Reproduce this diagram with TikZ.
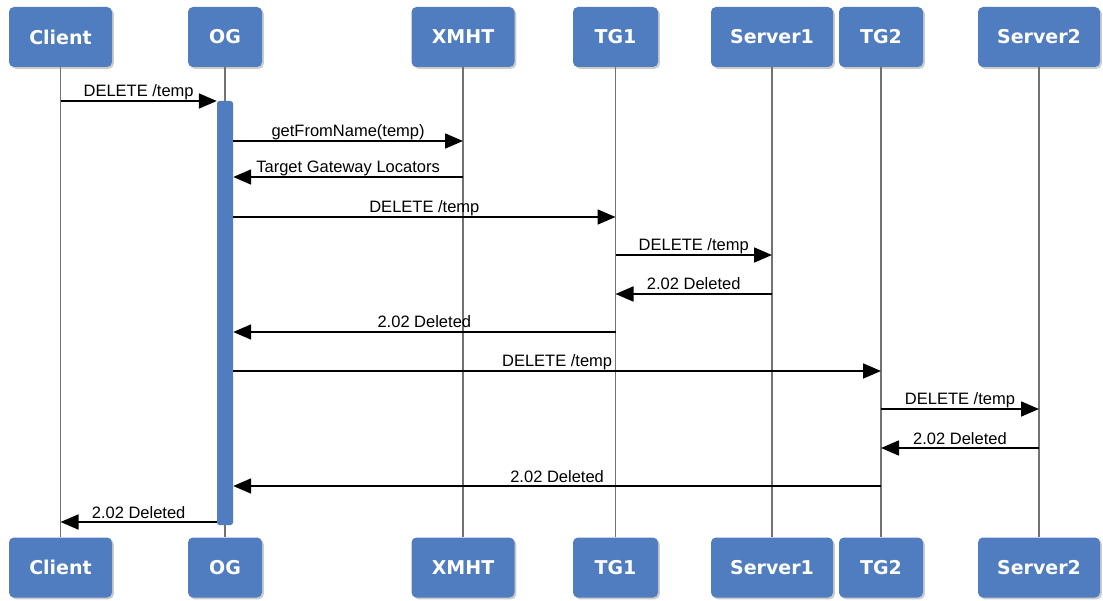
\documentclass[tikz,border=0pt]{standalone}
\usepackage{fontspec}
\setmainfont{Liberation Sans}
\newfontfamily\boxfont{DejaVu Sans}
\usetikzlibrary{arrows.meta,shadows}
\definecolor{actorblue}{RGB}{79,125,192}
\definecolor{lifegray}{RGB}{115,115,115}
\begin{document}
\begin{tikzpicture}[x=1pt,y=-1pt,
  actor/.style={fill=actorblue, rounded corners=5pt, minimum height=60pt,
    inner sep=0pt, text=white, font=\boxfont\bfseries\fontsize{19}{21}\selectfont,
    drop shadow={opacity=0.4, shadow xshift=1.8pt, shadow yshift=-1.8pt}},
  life/.style={draw=lifegray, line width=1.1pt},
  actbar/.style={fill=actorblue, rounded corners=2.5pt, minimum width=16pt,
    inner sep=0pt},
  msg/.style={draw=black, line width=1.8pt,
    -{Triangle[length=18pt,width=15pt]}},
  lbl/.style={anchor=base, inner sep=0pt, yshift=4pt,
    font=\fontsize{16.5}{18}\selectfont}
]
\useasboundingbox (0,0) rectangle (1103,601);
\fill[white] (0,0) rectangle (1103,601);

% participants, top row
\node[actor, minimum width=103pt] (clientT)  at (60.5,37)  {Client};
\node[actor, minimum width=74pt]  (ogT)      at (225,37)   {OG};
\node[actor, minimum width=103pt] (xmhtT)    at (463,37)   {XMHT};
\node[actor, minimum width=85pt]  (tgoneT)   at (615.5,37) {TG1};
\node[actor, minimum width=122pt] (servoneT) at (772,37)   {Server1};
\node[actor, minimum width=84pt]  (tgtwoT)   at (881,37)   {TG2};
\node[actor, minimum width=122pt] (servtwoT) at (1039,37)  {Server2};

% participants, bottom row
\node[actor, minimum width=103pt] (clientB)  at (60.5,567.5)  {Client};
\node[actor, minimum width=74pt]  (ogB)      at (225,567.5)   {OG};
\node[actor, minimum width=103pt] (xmhtB)    at (463,567.5)   {XMHT};
\node[actor, minimum width=85pt]  (tgoneB)   at (615.5,567.5) {TG1};
\node[actor, minimum width=122pt] (servoneB) at (772,567.5)   {Server1};
\node[actor, minimum width=84pt]  (tgtwoB)   at (881,567.5)   {TG2};
\node[actor, minimum width=122pt] (servtwoB) at (1039,567.5)  {Server2};

% lifelines
\foreach \p in {client,og,xmht,tgone,servone,tgtwo,servtwo}
  \draw[life] (\p T.south) -- (\p B.north);

% activation of OG
\node[actbar, minimum height=424pt] (bar) at (225,313) {};

% messages
\draw[msg] (clientT.south |- 0,101) -- (bar.west |- 0,101)
  node[lbl, midway] {DELETE /temp};
\draw[msg] (bar.east |- 0,141) -- (xmhtT.south |- 0,141)
  node[lbl, midway] {getFromName(temp)};
\draw[msg] (xmhtT.south |- 0,177) -- (bar.east |- 0,177)
  node[lbl, midway] {Target Gateway Locators};
\draw[msg] (bar.east |- 0,217) -- (tgoneT.south |- 0,217)
  node[lbl, midway] {DELETE /temp};
\draw[msg] (tgoneT.south |- 0,255) -- (servoneT.south |- 0,255)
  node[lbl, midway] {DELETE /temp};
\draw[msg] (servoneT.south |- 0,294) -- (tgoneT.south |- 0,294)
  node[lbl, midway] {2.02 Deleted};
\draw[msg] (tgoneT.south |- 0,332) -- (bar.east |- 0,332)
  node[lbl, midway] {2.02 Deleted};
\draw[msg] (bar.east |- 0,371) -- (tgtwoT.south |- 0,371)
  node[lbl, midway] {DELETE /temp};
\draw[msg] (tgtwoT.south |- 0,409) -- (servtwoT.south |- 0,409)
  node[lbl, midway] {DELETE /temp};
\draw[msg] (servtwoT.south |- 0,448) -- (tgtwoT.south |- 0,448)
  node[lbl, midway] {2.02 Deleted};
\draw[msg] (tgtwoT.south |- 0,486) -- (bar.east |- 0,486)
  node[lbl, midway] {2.02 Deleted};
\draw[msg] (bar.west |- 0,522) -- (clientT.south |- 0,522)
  node[lbl, midway] {2.02 Deleted};
\end{tikzpicture}
\end{document}
